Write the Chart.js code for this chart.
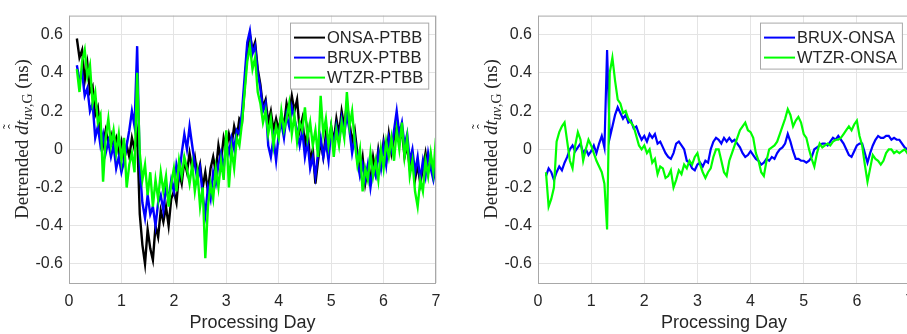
<!DOCTYPE html>
<html>
<head>
<meta charset="utf-8">
<script src="https://cdn.jsdelivr.net/npm/chart.js@4.4.1/dist/chart.umd.min.js"></script>
<style>
  html, body { margin: 0; padding: 0; background: #fff; overflow: hidden; }
  body { width: 907px; height: 334px; position: relative; }
  canvas { position: absolute; top: 0; }
  #leftChart { left: 0; }
  #rightChart { left: 469px; }
</style>
</head>
<body>
<canvas id="leftChart" width="453" height="334"></canvas>
<canvas id="rightChart" width="458" height="334"></canvas>
<script>
// processing day of each sample
const days = [
  0.15, 0.20, 0.25, 0.30, 0.35, 0.40, 0.45, 0.50, 0.55, 0.60,
  0.65, 0.70, 0.75, 0.80, 0.85, 0.90, 0.95, 1.00, 1.05, 1.10,
  1.15, 1.20, 1.25, 1.30, 1.35, 1.40, 1.45, 1.50, 1.55, 1.60,
  1.65, 1.70, 1.75, 1.80, 1.85, 1.90, 1.95, 2.00, 2.05, 2.10,
  2.15, 2.20, 2.25, 2.30, 2.35, 2.40, 2.45, 2.50, 2.55, 2.60,
  2.65, 2.70, 2.75, 2.80, 2.85, 2.90, 2.95, 3.00, 3.05, 3.10,
  3.15, 3.20, 3.25, 3.30, 3.35, 3.40, 3.45, 3.50, 3.55, 3.60,
  3.65, 3.70, 3.75, 3.80, 3.85, 3.90, 3.95, 4.00, 4.05, 4.10,
  4.15, 4.20, 4.25, 4.30, 4.35, 4.40, 4.45, 4.50, 4.55, 4.60,
  4.65, 4.70, 4.75, 4.80, 4.85, 4.90, 4.95, 5.00, 5.05, 5.10,
  5.15, 5.20, 5.25, 5.30, 5.35, 5.40, 5.45, 5.50, 5.55, 5.60,
  5.65, 5.70, 5.75, 5.80, 5.85, 5.90, 5.95, 6.00, 6.05, 6.10,
  6.15, 6.20, 6.25, 6.30, 6.35, 6.40, 6.45, 6.50, 6.55, 6.60,
  6.65, 6.70, 6.75, 6.80, 6.85, 6.90, 6.95, 7.00
];

// left panel, links to PTBB (ns)
const onsaPtbb = [
  0.58, 0.48, 0.52, 0.36, 0.45, 0.30, 0.33, 0.18, 0.22, 0.08,
  0.02, 0.10, 0.04, 0.08, 0.02, 0.06, -0.02, 0.04, -0.06, 0.02,
  -0.04, 0.06, 0.00, 0.08, -0.34, -0.50, -0.60, -0.42, -0.52, -0.58,
  -0.40, -0.46, -0.32, -0.38, -0.30, -0.40, -0.26, -0.22, -0.28, -0.12,
  -0.18, -0.06, -0.12, -0.02, -0.10, -0.04, -0.14, -0.08, -0.20, -0.12,
  -0.22, -0.10, -0.04, -0.12, 0.02, -0.06, 0.06, 0.00, 0.08, 0.02,
  0.12, 0.06, 0.16, 0.14, 0.32, 0.52, 0.60, 0.52, 0.56, 0.42,
  0.34, 0.22, 0.26, 0.14, 0.20, 0.10, 0.16, 0.10, 0.18, 0.12,
  0.24, 0.18, 0.28, 0.20, 0.26, 0.10, 0.16, 0.02, 0.10, -0.06,
  0.00, -0.18, -0.06, 0.04, -0.04, 0.08, 0.02, 0.12, 0.04, 0.16,
  0.08, 0.20, 0.12, 0.24, 0.14, 0.04, 0.10, -0.02, -0.12, -0.04,
  -0.18, -0.10, -0.16, -0.04, -0.12, 0.00, -0.08, 0.04, -0.06, 0.08,
  -0.02, 0.06, 0.12, 0.04, 0.10, -0.04, 0.02, -0.10, -0.04, -0.16,
  -0.08, -0.18, -0.10, -0.02, -0.12, -0.04, -0.14, -0.06
];
const bruxPtbb = [
  0.44, 0.36, 0.40, 0.28, 0.32, 0.20, 0.24, 0.06, 0.12, 0.02,
  0.08, -0.02, 0.04, -0.04, 0.02, -0.10, -0.04, -0.12, -0.06, 0.02,
  0.10, 0.20, 0.12, 0.54, -0.10, -0.28, -0.36, -0.24, -0.34, -0.30,
  -0.40, -0.28, -0.24, -0.32, -0.20, -0.26, -0.16, -0.22, -0.08, -0.14,
  -0.02, 0.08, 0.00, 0.12, 0.02, -0.08, -0.16, -0.10, -0.24, -0.34,
  -0.20, -0.26, -0.12, -0.18, -0.08, -0.02, -0.10, 0.04, -0.02, 0.06,
  0.00, 0.10, 0.08, 0.20, 0.38, 0.56, 0.62, 0.50, 0.54, 0.40,
  0.32, 0.20, 0.24, 0.02, -0.04, 0.06, -0.06, 0.08, 0.14, 0.06,
  0.18, 0.12, 0.22, 0.16, 0.10, 0.02, 0.10, -0.04, 0.04, -0.10,
  -0.04, -0.14, -0.02, 0.06, -0.04, 0.04, -0.06, 0.10, 0.02, 0.12,
  0.04, 0.16, 0.08, 0.18, 0.10, -0.02, 0.06, -0.06, -0.14, -0.08,
  -0.16, -0.08, -0.20, -0.10, -0.14, -0.02, -0.10, 0.02, -0.08, 0.06,
  0.00, 0.10, 0.20, 0.08, 0.14, 0.02, 0.08, -0.06, 0.00, -0.12,
  -0.04, -0.16, -0.06, -0.14, -0.02, -0.10, -0.16, -0.08
];
const wtzrPtbb = [
  0.42, 0.30, 0.46, 0.52, 0.38, 0.44, 0.24, 0.30, 0.14, 0.18,
  -0.17, 0.06, 0.16, 0.02, 0.10, -0.02, 0.08, -0.06, 0.06, -0.20,
  -0.08, -0.02, -0.12, 0.40, -0.02, -0.16, -0.08, -0.24, -0.12, -0.30,
  -0.16, -0.26, -0.12, -0.22, -0.14, -0.30, -0.18, -0.10, -0.22, -0.06,
  -0.14, -0.04, -0.10, -0.18, -0.08, -0.22, -0.12, -0.30, -0.20, -0.57,
  -0.30, -0.18, -0.26, -0.10, -0.20, -0.06, -0.16, 0.10, -0.20, 0.00,
  -0.10, 0.06, 0.02, 0.14, 0.30, 0.46, 0.54, 0.42, 0.48, 0.30,
  0.24, 0.14, 0.20, 0.08, 0.16, 0.02, 0.12, 0.06, 0.20, 0.10,
  0.16, 0.24, 0.08, 0.18, 0.04, 0.14, 0.10, 0.22, 0.06, 0.14,
  0.02, 0.10, -0.04, 0.28, 0.08, 0.16, 0.02, 0.12, -0.04, 0.10,
  0.02, 0.14, 0.06, 0.30, 0.12, 0.20, 0.04, -0.08, 0.00, -0.22,
  -0.10, -0.16, -0.02, -0.14, -0.06, -0.16, 0.00, -0.10, 0.04, -0.04,
  0.06, -0.06, 0.10, 0.00, 0.14, -0.04, 0.06, -0.14, -0.06, -0.22,
  -0.30, -0.16, -0.22, -0.06, -0.14, -0.02, -0.12, 0.06
];

// right panel, links to ONSA (ns)
const bruxOnsa = [
  -0.14, -0.10, -0.12, -0.16, -0.12, -0.09, -0.11, -0.07, -0.04, 0.00,
  0.02, -0.01, 0.01, 0.03, -0.02, 0.00, -0.03, -0.01, 0.02, -0.02,
  0.03, 0.07, 0.01, 0.52, 0.06, 0.12, 0.18, 0.22, 0.19, 0.16,
  0.18, 0.14, 0.15, 0.11, 0.12, 0.08, 0.05, 0.07, 0.04, 0.08,
  0.06, 0.08, 0.03, 0.04, 0.01, -0.02, -0.04, -0.05, -0.02, 0.03,
  0.04, 0.02, 0.00, -0.06, -0.07, -0.10, -0.11, -0.08, -0.07, -0.09,
  -0.06, -0.07, 0.00, 0.04, 0.06, 0.05, 0.03, 0.06, 0.04, 0.06,
  0.04, 0.05, 0.03, 0.01, -0.02, -0.04, -0.03, -0.01, -0.03, -0.05,
  -0.06, -0.08, -0.07, -0.05, -0.06, -0.04, -0.05, -0.02, 0.00, 0.01,
  0.03, 0.08, 0.04, -0.01, -0.05, -0.05, -0.06, -0.06, -0.07, -0.06,
  -0.04, 0.00, 0.01, 0.02, 0.03, 0.03, 0.02, 0.04, 0.06, 0.05,
  0.07, 0.05, 0.03, 0.00, -0.03, -0.04, -0.01, 0.02, 0.03, 0.03,
  -0.02, -0.07, -0.02, 0.02, 0.05, 0.07, 0.06, 0.06, 0.07, 0.07,
  0.05, 0.06, 0.05, 0.05, 0.03, 0.01, 0.00, -0.01
];
const wtzrOnsa = [
  -0.12, -0.30, -0.26, -0.20, 0.04, 0.09, 0.12, 0.14, 0.04, -0.06,
  -0.10, 0.02, 0.09, 0.05, -0.06, 0.00, 0.05, 0.02, -0.02, -0.06,
  -0.09, -0.12, -0.18, -0.42, 0.40, 0.48, 0.36, 0.26, 0.24, 0.19,
  0.20, 0.16, 0.14, 0.12, 0.07, 0.02, 0.00, 0.02, -0.02, 0.00,
  -0.07, -0.05, -0.13, -0.09, -0.10, -0.15, -0.14, -0.11, -0.20, -0.16,
  -0.11, -0.13, -0.08, -0.10, -0.06, -0.08, -0.04, -0.02, -0.08, -0.12,
  -0.15, -0.12, -0.10, -0.04, 0.00, 0.00, -0.06, -0.12, -0.14, -0.06,
  -0.02, 0.02, 0.06, 0.10, 0.12, 0.14, 0.10, 0.09, 0.06, -0.02,
  -0.06, -0.12, -0.14, -0.06, 0.00, 0.01, 0.02, 0.04, 0.08, 0.12,
  0.16, 0.21, 0.18, 0.12, 0.15, 0.17, 0.14, 0.08, 0.06, 0.00,
  -0.05, -0.09, -0.02, 0.03, 0.01, 0.02, 0.03, 0.02, 0.04, 0.05,
  0.05, 0.06, 0.08, 0.10, 0.12, 0.10, 0.13, 0.15, 0.07, 0.02,
  -0.08, -0.17, -0.10, -0.03, -0.05, -0.06, -0.08, -0.06, -0.02, 0.00,
  0.00, -0.02, -0.01, -0.02, -0.01, 0.00, -0.02, -0.01
];

const xTicks = [0, 1, 2, 3, 4, 5, 6, 7];
const yTicks = [-0.6, -0.4, -0.2, 0, 0.2, 0.4, 0.6];

const textColor = '#262626';
const gridColor = '#e4e4e4';
const boxColor = '#a8a8a8';
const sansFont = '"Liberation Sans", Arial, Helvetica, sans-serif';
const serifFont = '"Liberation Serif", "Times New Roman", serif';

// y title with accents and subscript: Detrended dt_{uv,G} (ns)
function drawYTitle(ctx, bx, cy) {
  const parts = [
    { t: 'Detrended ', f: '19px ' + serifFont, dy: 0 },
    { t: 'dt', f: 'italic 19px ' + serifFont, dy: 0, accent: true },
    { t: 'uv', f: 'italic 14px ' + serifFont, dy: 4 },
    { t: ',G', f: '14px ' + serifFont, dy: 4 },
    { t: ' (ns)', f: '19px ' + serifFont, dy: 0 }
  ];
  let total = 0;
  parts.forEach(p => { ctx.font = p.f; p.w = ctx.measureText(p.t).width; total += p.w; });
  ctx.save();
  ctx.translate(bx, cy);
  ctx.rotate(-Math.PI / 2);
  ctx.fillStyle = textColor;
  ctx.textBaseline = 'alphabetic';
  let x = -total / 2;
  parts.forEach(p => {
    ctx.font = p.f;
    ctx.textAlign = 'left';
    ctx.fillText(p.t, x, p.dy);
    if (p.accent) {
      ctx.font = '15px ' + serifFont;
      ctx.textAlign = 'center';
      ctx.fillText('\u02C6', x + p.w / 2 + 1, -10);
      ctx.fillText('\u02DC', x + p.w / 2 + 1, -15);
    }
    x += p.w;
  });
  ctx.restore();
}

const panelDecor = {
  id: 'panelDecor',
  afterDraw(chart) {
    const ctx = chart.ctx, a = chart.chartArea;
    ctx.save();
    ctx.strokeStyle = boxColor;
    ctx.lineWidth = 1;
    ctx.strokeRect(a.left + 0.5, a.top + 0.5, a.right - a.left - 1, a.bottom - a.top);

    // legend box, top right inside the axes
    const items = chart.data.datasets;
    ctx.font = '16.5px ' + sansFont;
    const tw = Math.max(...items.map(d => ctx.measureText(d.label).width));
    const w = 4 + 31 + 2 + tw + 5;
    const h = 6 + items.length * 20;
    const x0 = Math.round(a.right - 8 - w), y0 = a.top + 7;
    ctx.fillStyle = '#fff';
    ctx.fillRect(x0, y0, w, h);
    ctx.strokeRect(x0 + 0.5, y0 + 0.5, w, h);
    items.forEach((d, i) => {
      const cy = y0 + 15 + i * 20;
      ctx.strokeStyle = d.borderColor;
      ctx.lineWidth = 2;
      ctx.beginPath();
      ctx.moveTo(x0 + 4, cy);
      ctx.lineTo(x0 + 35, cy);
      ctx.stroke();
      ctx.fillStyle = textColor;
      ctx.textBaseline = 'middle';
      ctx.textAlign = 'left';
      ctx.fillText(d.label, x0 + 37, cy + 1);
    });
    ctx.restore();

    drawYTitle(ctx, 28, 139);
  }
};

function makePanel(canvasId, series, lineWidth) {
  return new Chart(document.getElementById(canvasId), {
    type: 'line',
    data: {
      datasets: series.map(s => ({
        label: s.label,
        data: days.map((d, i) => ({ x: d, y: s.values[i] })),
        borderColor: s.color,
        backgroundColor: s.color,
        borderWidth: lineWidth,
        pointRadius: 0,
        tension: 0,
        order: s.order
      }))
    },
    options: {
      responsive: false,
      animation: false,
      events: [],
      layout: { padding: { top: 10, right: 17, bottom: 0, left: 0 } },
      plugins: { legend: { display: false }, tooltip: { enabled: false } },
      scales: {
        x: {
          type: 'linear',
          min: 0,
          max: 7,
          afterBuildTicks: s => { s.ticks = xTicks.map(v => ({ value: v })); },
          afterFit: s => { s.height = 51; },
          grid: { color: gridColor, drawTicks: false },
          border: { display: false },
          ticks: { padding: 9, color: textColor, font: { family: sansFont, size: 16 }, callback: v => String(v) },
          title: { display: true, text: 'Processing Day', color: textColor, font: { family: sansFont, size: 18 }, padding: { top: 0, bottom: 0 } }
        },
        y: {
          type: 'linear',
          min: -0.7,
          max: 0.7,
          afterBuildTicks: s => { s.ticks = yTicks.map(v => ({ value: v })); },
          afterFit: s => { s.width = 69; },
          grid: { color: gridColor, drawTicks: false },
          border: { display: false },
          ticks: { padding: 6, color: textColor, font: { family: sansFont, size: 16 }, callback: v => String(v) }
        }
      }
    },
    plugins: [panelDecor]
  });
}

makePanel('leftChart', [
  { label: 'ONSA-PTBB', values: onsaPtbb, color: '#000000', order: 2 },
  { label: 'BRUX-PTBB', values: bruxPtbb, color: '#0000ff', order: 1 },
  { label: 'WTZR-PTBB', values: wtzrPtbb, color: '#00ff00', order: 0 }
], 2.4);

makePanel('rightChart', [
  { label: 'BRUX-ONSA', values: bruxOnsa, color: '#0000ff', order: 1 },
  { label: 'WTZR-ONSA', values: wtzrOnsa, color: '#00ff00', order: 0 }
], 2.2);
</script>
</body>
</html>
